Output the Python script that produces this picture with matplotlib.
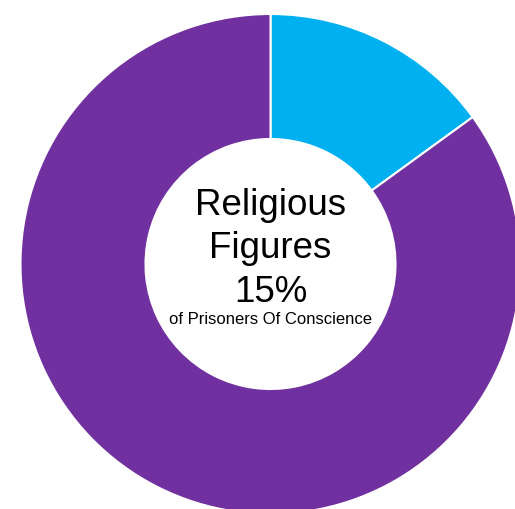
import matplotlib.pyplot as plt

labels = ["Religious Figures", "Other"]
shares = [15, 85]
colors = ["#00B0F0", "#7030A0"]

title_lines = ["Religious", "Figures", "15%"]
subtitle = "of Prisoners Of Conscience"

plt.rcParams["font.family"] = ["Liberation Sans", "DejaVu Sans"]

fig = plt.figure(figsize=(5.15, 5.10), dpi=100)
ax = fig.add_axes([0, 0, 1, 1])

# work in pixel units so the ring sits where it does in the original
cx, cy, r = 270.5, 245, 250
ax.pie(
    shares,
    colors=colors,
    startangle=90,
    counterclock=False,
    center=(cx, cy),
    radius=r,
    frame=True,
    wedgeprops=dict(width=r * 0.5, edgecolor="white", linewidth=1.5),
)
ax.set_xlim(0, 515)
ax.set_ylim(0, 510)
ax.set_aspect("equal")
ax.axis("off")

baselines = [295, 251.5, 208.5]
for line, y in zip(title_lines, baselines):
    ax.text(cx, y, line, ha="center", va="baseline", fontsize=26.5, color="black")
ax.text(cx, 186, subtitle, ha="center", va="baseline", fontsize=12, color="black")

fig.savefig("out.png", dpi=100)
